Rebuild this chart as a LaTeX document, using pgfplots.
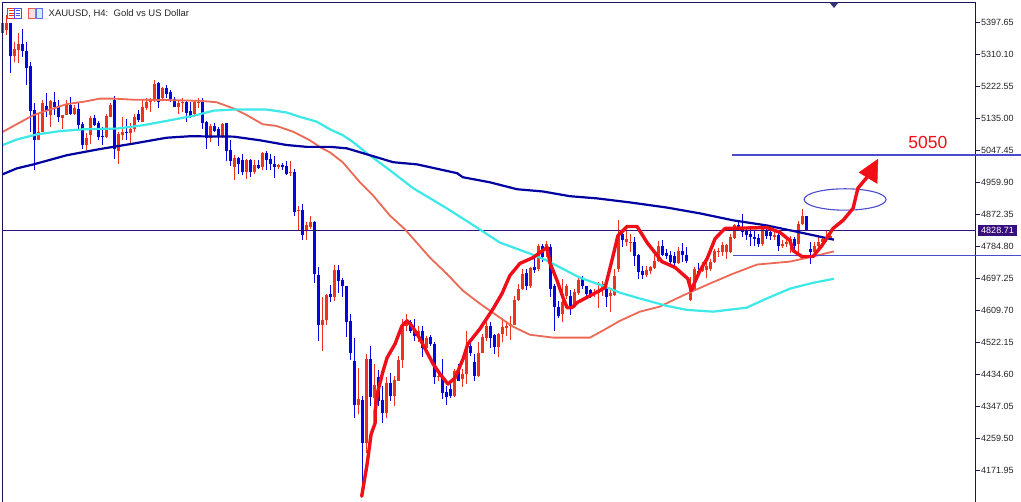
\documentclass[border=0pt]{standalone}
\usepackage{fontspec}
\setmainfont{Liberation Sans}
\usepackage{pgfplots}
\usepackage{pgfplotstable}
\pgfplotsset{compat=1.18}

\definecolor{candleblue}{RGB}{5,5,225}
\definecolor{candlered}{RGB}{238,50,30}
\definecolor{macoral}{RGB}{236,105,85}
\definecolor{macyan}{RGB}{60,232,232}
\definecolor{manavy}{RGB}{0,0,160}
\definecolor{handred}{RGB}{240,15,25}
\definecolor{framecol}{RGB}{25,20,85}
\definecolor{priceline}{RGB}{55,15,125}
\definecolor{userline}{RGB}{75,75,205}

\pgfplotsset{candle/.style={draw=none,no markers,forget plot}}

% k top bottom high low
\pgfplotstableread{
k t b h l
2 5397 5307 5397 5261
5 5339 5319 5380 5305
6 5321 5273 5346 5227
7 5278 5157 5289 5099
8 5159 5078 5177 4994
11 5170 5159 5204 5140
13 5181 5166 5209 5145
14 5166 5140 5186 5127
17 5172 5148 5195 5145
19 5161 5117 5177 5108
20 5120 5063 5127 5053
23 5138 5117 5145 5115
24 5122 5085 5129 5078
25 5088 5085 5113 5063
28 5186 5051 5198 5026
31 5099 5097 5133 5076
34 5148 5131 5159 5127
39 5232 5181 5236 5163
41 5218 5202 5227 5191
42 5209 5188 5214 5181
43 5188 5168 5195 5166
46 5181 5151 5186 5127
47 5157 5142 5181 5138
50 5181 5122 5191 5108
51 5127 5081 5129 5053
53 5115 5102 5122 5099
54 5108 5085 5113 5061
56 5122 5047 5124 5020
57 5049 5020 5076 5006
59 5028 5010 5031 4985
60 5023 4989 5038 4980
62 5021 4989 5026 4976
64 5008 5001 5021 4997
66 5042 5023 5047 4994
67 5026 5012 5038 4994
68 5012 5003 5032 4974
70 5008 5003 5014 4994
71 5005 4985 5019 4980
73 4988 4880 4998 4868
75 4886 4818 4901 4804
78 4852 4710 4854 4685
79 4708 4571 4729 4527
82 4655 4646 4681 4633
84 4722 4692 4735 4657
85 4694 4676 4699 4646
86 4678 4580 4678 4538
87 4582 4495 4600 4475
88 4472 4352 4535 4317
90 4364 4248 4376 4102
92 4477 4374 4512 4349
94 4427 4363 4447 4349
95 4365 4331 4404 4303
97 4413 4376 4440 4363
102 4578 4555 4584 4550
103 4557 4541 4587 4527
105 4555 4509 4567 4484
107 4538 4518 4543 4514
108 4518 4427 4523 4410
110 4427 4385 4477 4367
111 4387 4374 4404 4351
112 4395 4376 4408 4372
114 4445 4418 4463 4418
117 4514 4493 4527 4486
118 4468 4431 4491 4418
122 4568 4536 4579 4509
123 4543 4511 4546 4491
131 4712 4676 4724 4666
133 4730 4721 4756 4712
135 4788 4756 4793 4742
137 4785 4669 4793 4646
138 4676 4619 4683 4553
139 4621 4596 4635 4589
142 4651 4619 4665 4599
145 4697 4676 4706 4669
146 4676 4655 4678 4651
147 4665 4646 4669 4644
151 4672 4646 4683 4621
155 4820 4802 4829 4785
158 4797 4758 4811 4733
159 4762 4715 4765 4697
160 4719 4708 4733 4697
165 4788 4761 4802 4758
166 4768 4760 4779 4751
167 4763 4742 4774 4736
168 4758 4740 4770 4729
170 4772 4763 4794 4742
171 4763 4747 4783 4740
174 4719 4710 4740 4701
184 4843 4834 4857 4829
185 4834 4825 4873 4811
186 4827 4818 4838 4802
187 4820 4811 4834 4788
188 4811 4806 4829 4788
189 4809 4793 4820 4785
191 4829 4813 4838 4806
192 4825 4813 4834 4802
194 4818 4788 4829 4772
198 4806 4788 4811 4767
201 4868 4831 4870 4829
202 4779 4770 4797 4738
}\bluebars

\pgfplotstableread{
k t b h l
0 5397 5369 5397 5369
1 5397 5378 5419 5364
3 5325 5307 5346 5291
4 5339 5323 5369 5287
9 5099 5078 5149 5078
10 5179 5099 5186 5099
12 5183 5145 5186 5113
15 5145 5136 5145 5108
16 5172 5145 5186 5145
18 5163 5148 5172 5145
21 5083 5063 5096 5049
22 5136 5090 5142 5065
26 5142 5085 5149 5083
27 5172 5140 5177 5140
29 5092 5047 5099 5012
30 5099 5090 5140 5076
32 5106 5095 5122 5065
33 5140 5106 5149 5099
35 5166 5127 5186 5127
36 5181 5163 5191 5159
37 5186 5181 5193 5154
38 5230 5186 5241 5181
40 5218 5191 5221 5186
44 5177 5166 5186 5149
45 5181 5177 5191 5154
48 5181 5148 5186 5140
49 5181 5179 5191 5163
52 5115 5081 5120 5072
55 5120 5085 5124 5081
58 5028 5003 5035 4966
61 5021 4989 5026 4969
63 5008 4989 5021 4983
65 5042 5003 5044 4994
69 5008 5003 5012 4997
72 4988 4987 5020 4977
74 4886 4882 4895 4831
76 4843 4831 4852 4804
77 4852 4838 4868 4834
80 4584 4571 4648 4500
81 4653 4584 4655 4571
83 4722 4646 4735 4635
89 4367 4352 4454 4328
91 4477 4248 4491 4221
93 4406 4372 4465 4340
96 4413 4331 4429 4317
98 4419 4376 4431 4349
99 4474 4418 4486 4418
100 4568 4474 4587 4454
101 4582 4568 4600 4553
104 4555 4541 4568 4523
106 4536 4509 4541 4504
109 4431 4427 4440 4418
113 4445 4376 4450 4374
115 4436 4422 4450 4401
116 4514 4436 4553 4410
119 4495 4431 4523 4429
120 4538 4495 4546 4495
121 4568 4536 4578 4527
124 4546 4511 4550 4482
125 4566 4546 4591 4523
126 4568 4562 4578 4541
127 4573 4568 4596 4529
128 4639 4571 4651 4571
129 4669 4639 4683 4637
130 4710 4669 4724 4665
132 4726 4676 4730 4672
134 4788 4724 4793 4719
136 4793 4783 4800 4756
140 4633 4600 4697 4578
141 4676 4651 4683 4642
143 4660 4619 4669 4617
144 4695 4657 4701 4654
148 4660 4655 4669 4646
149 4665 4657 4687 4617
150 4683 4665 4692 4651
152 4657 4651 4669 4605
153 4706 4653 4724 4651
154 4815 4724 4858 4715
156 4806 4797 4829 4788
157 4797 4794 4820 4770
161 4721 4708 4733 4701
162 4729 4719 4733 4710
163 4747 4727 4761 4724
164 4788 4745 4800 4742
169 4772 4740 4783 4738
172 4666 4639 4701 4637
173 4724 4666 4729 4664
175 4729 4719 4742 4715
176 4733 4721 4747 4699
177 4742 4724 4751 4719
178 4772 4742 4779 4740
179 4774 4770 4782 4756
180 4790 4770 4797 4758
181 4790 4770 4793 4751
182 4811 4770 4820 4767
183 4843 4809 4847 4806
190 4834 4793 4838 4788
193 4818 4811 4825 4802
195 4793 4788 4802 4782
196 4797 4793 4806 4783
197 4806 4794 4815 4767
199 4847 4793 4855 4765
200 4868 4846 4889 4843
203 4788 4770 4797 4765
204 4797 4788 4811 4779
205 4806 4797 4811 4788
206 4809 4802 4829 4797
207 4813 4809 4829 4802
}\redbars

\begin{document}
\begin{tikzpicture}
\fill[white] (0,0) rectangle (1021pt,502pt);
\useasboundingbox (0,0) rectangle (1021pt,502pt);
\begin{axis}[
    at={(2.5pt,0pt)}, anchor=south west,
    scale only axis,
    width=973pt, height=499.5pt,
    xmin=-0.05, xmax=243.2,
    ymin=4086.3, ymax=5453,
    clip=false,
    axis x line*=top,
    axis y line*=right,
    axis line style={-,draw=framecol,line width=0.9pt},
    xtick=\empty,
    ytick={4171.95,4259.5,4347.05,4434.6,4522.15,4609.7,4697.25,4784.8,4872.35,4959.9,5047.45,5135,5222.55,5310.1,5397.65},
    ytick pos=right,
    tick align=outside,
    major tick length=4.5pt,
    tick style={draw=framecol,line width=0.7pt},
    scaled y ticks=false,
    yticklabel style={font=\fontsize{9}{9}\selectfont,text=black!85,inner sep=0pt,xshift=1pt,
        /pgf/number format/.cd,fixed,fixed zerofill,precision=2,1000 sep={},assume math mode=true},
]

% wicks and bodies
\addplot[candle,error bars/.cd,y dir=both,y explicit,error mark=none,
    error bar style={draw=candleblue,line width=1pt}]
    table[x=k,y=t,y error plus expr=\thisrow{h}-\thisrow{t},y error minus expr=\thisrow{t}-\thisrow{l}] {\bluebars};
\addplot[candle,error bars/.cd,y dir=minus,y explicit,error mark=none,
    error bar style={draw=candleblue,line width=3.2pt}]
    table[x=k,y=t,y error minus expr=\thisrow{t}-\thisrow{b}] {\bluebars};
\addplot[candle,error bars/.cd,y dir=both,y explicit,error mark=none,
    error bar style={draw=candlered,line width=1pt}]
    table[x=k,y=t,y error plus expr=\thisrow{h}-\thisrow{t},y error minus expr=\thisrow{t}-\thisrow{l}] {\redbars};
\addplot[candle,error bars/.cd,y dir=minus,y explicit,error mark=none,
    error bar style={draw=candlered,line width=3.2pt}]
    table[x=k,y=t,y error minus expr=\thisrow{t}-\thisrow{b}] {\redbars};

% current price
\addplot[priceline,line width=0.9pt] coordinates {(-0.05,4828.71) (243.2,4828.71)};

% moving averages
\addplot[macoral,line width=1.8pt,line join=round] coordinates {
(0,5099) (3.5,5120) (7.7,5145) (11.8,5160) (16,5175) (20,5181) (24.3,5190) (27.7,5190) (32.7,5187)
(41,5186) (49.3,5184) (53.5,5180) (57.7,5163) (61,5145) (65,5120) (68.5,5115) (72.7,5099) (76.8,5076)
(79.5,5056) (81.8,5043) (85,5016) (89.3,4961) (92.6,4925) (96.8,4870) (100.6,4832) (106.8,4755) (111,4711)
(115,4665) (119.3,4629) (123.6,4596) (127.6,4566) (131.8,4544) (137.6,4536) (146.8,4536) (150,4555)
(154.3,4582) (159.3,4607) (164.3,4621) (170,4651) (176.8,4684) (182.6,4711) (188.6,4736) (196.8,4744)
(202.6,4758) (207.8,4772)};
\addplot[macyan,line width=2.2pt,line join=round] coordinates {
(0,5063) (3.5,5078) (8.5,5092) (14.3,5101) (20,5106) (28.5,5108) (35,5117) (41,5129) (47.7,5143)
(52.7,5157) (57.7,5160) (66,5160) (71,5152) (74.3,5140) (78.5,5127) (81.8,5106) (85,5090) (87.6,5071)
(91,5041) (96.8,4994) (102.6,4945) (111,4890) (119.3,4832) (124.3,4796) (131.8,4766) (136,4747)
(144.3,4700) (150,4678) (154.3,4659) (159.3,4643) (166,4623) (171,4612) (177.6,4607) (186,4618)
(191,4643) (196.8,4670) (202.6,4686) (207.8,4697)};
\addplot[manavy,line width=2.2pt,line join=round] coordinates {
(0,4983) (3.5,4999) (7.7,5010) (16,5035) (24.3,5052) (32.7,5067) (41,5083) (46.8,5087) (57.7,5086)
(64.3,5076) (71,5063) (76,5058) (81.8,5058) (86,5054) (90,5041) (97.6,5016) (103.6,5010) (113.6,4986)
(115,4975) (121.8,4961) (128.6,4942) (135,4936) (141.8,4923) (148.6,4917) (156.8,4906) (166,4892)
(174.3,4876) (182.6,4857) (191,4843) (199.3,4824) (207.8,4804)};

% user levels
\addplot[userline,line width=1.4pt] coordinates {(182.3,5036) (254.6,5036)};
\addplot[userline,line width=1.4pt] coordinates {(182.6,4760) (254.6,4760)};
\draw[userline,line width=1.1pt] (axis cs:210.6,4914) ellipse [x radius=41pt,y radius=10.7pt];

% hand drawn path and arrow
\addplot[handred,line width=3.4pt,line join=round,line cap=round] coordinates {
(89.75,4102) (91.1,4190) (92.1,4272) (93.1,4302) (93.1,4335) (93.8,4390) (95.1,4445) (96.1,4481)
(98.1,4519) (99.8,4568) (101.1,4582) (102.3,4568) (104.3,4533) (107.6,4464) (109.3,4437) (111.3,4409)
(113.1,4426) (115.1,4478) (116.3,4519) (119.3,4560) (122.6,4615) (124.8,4656) (126.8,4706) (129.3,4739)
(132.6,4755) (136.1,4783) (136.8,4741) (138.6,4692) (140.1,4645) (141.1,4618) (142.3,4618) (143.6,4632)
(149.3,4665) (150.6,4673) (152.3,4747) (153.8,4815) (156.1,4840) (158.6,4840) (161.1,4796) (163.6,4761)
(164.8,4744) (168.1,4728) (171.3,4697) (172.1,4665) (174.3,4719) (176.1,4752) (178.1,4807) (180.6,4835)
(191.1,4837) (194.3,4824) (196.8,4802) (197.6,4774) (199.8,4758) (202.6,4758) (204.8,4788) (207.6,4835)
(210.1,4857) (212.6,4890) (213.8,4945) (216.1,4975)};
\addplot[handred,fill=handred,line width=0.5pt] coordinates {(218.8,5024) (214.1,4988) (218.6,4958)} -- cycle;

\node[text=handred,font=\fontsize{17.5}{17.5}\selectfont] at (axis cs:231.3,5071) {5050};
\node[fill=priceline,text=white,font=\fontsize{9}{9}\selectfont,inner sep=0pt,minimum width=39pt,minimum height=11pt]
    at (axis cs:248.7,4828.71) {4828.71};
\end{axis}

% left edge of the frame, window icons, title
\draw[framecol,line width=0.9pt] (2.5pt,0pt) -- (2.5pt,499.5pt);
\fill[black!55!blue!60!gray] (829.5pt,499.5pt) -- (838.5pt,499.5pt) -- (834pt,494pt) -- cycle;
\begin{scope}[line width=0.7pt]
  \draw[candlered] (7.5pt,484pt) rectangle (14.5pt,494pt);
  \draw[candleblue!70] (14.5pt,484pt) rectangle (21.5pt,494pt);
  \foreach \yy in {486.5,489,491.5} {
    \draw[candlered] (9pt,\yy pt) -- (13.5pt,\yy pt);
    \draw[candleblue!70] (15.5pt,\yy pt) -- (20pt,\yy pt);
  }
  \draw[candlered!80,fill=candlered!15] (28.5pt,484pt) rectangle (35.5pt,494pt);
  \draw[candleblue!60,fill=cyan!20] (36.5pt,484pt) rectangle (42.5pt,494pt);
\end{scope}
\node[anchor=west,inner sep=0pt,text=black!85,font=\fontsize{9.5}{9.5}\selectfont] at (48.5pt,488.5pt) {XAUUSD, H4:\ \ Gold vs US Dollar};
\end{tikzpicture}
\end{document}
